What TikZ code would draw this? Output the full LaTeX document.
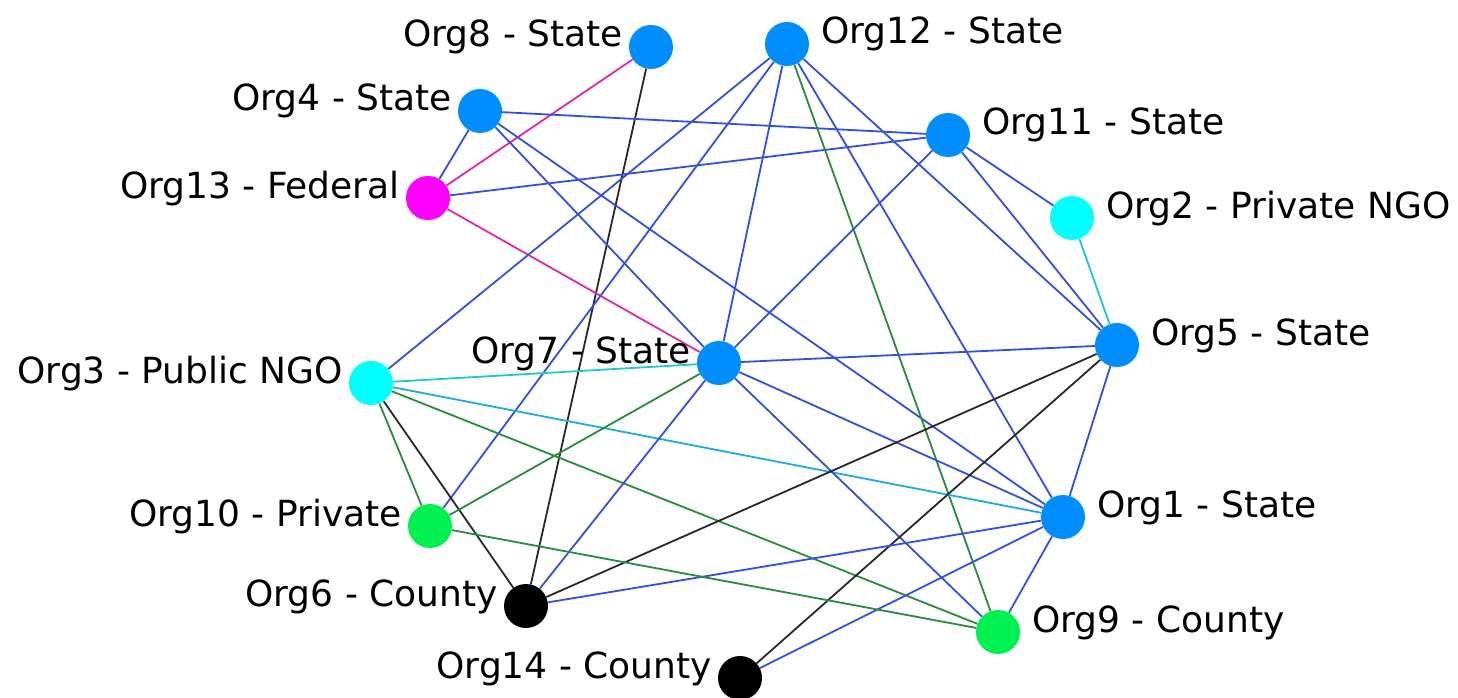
\documentclass[tikz,border=0pt]{standalone}
\usepackage{fontspec}
\setmainfont{DejaVu Sans}
\usetikzlibrary{backgrounds}
\definecolor{nblue}{RGB}{0,142,255}
\definecolor{ncyan}{RGB}{0,255,255}
\definecolor{nmag}{RGB}{255,0,255}
\definecolor{ngreen}{RGB}{0,240,80}
\definecolor{eblue}{RGB}{50,80,220}
\definecolor{emag}{RGB}{220,40,170}
\definecolor{egreen}{RGB}{40,140,60}
\definecolor{eblack}{RGB}{40,40,40}
\definecolor{ecyan}{RGB}{30,200,210}
\definecolor{elblue}{RGB}{30,170,225}
\tikzset{
  org/.style={circle, minimum size=44pt, inner sep=0pt, draw=none, fill=#1},
  lbl/.style={inner sep=0pt, font=\fontsize{36}{40}\selectfont, text=black},
  lleft/.style={lbl, anchor=base east},
  lright/.style={lbl, anchor=base west},
  edge/.style={line width=1.8pt, draw=#1},
}
\begin{document}
\begin{tikzpicture}[x=1pt,y=-1pt]
\useasboundingbox (0,0) rectangle (1458,698);
% nodes
\node[org=nblue]  (n8)  at (651,47)  {};
\node[org=nblue]  (n12) at (787,44)  {};
\node[org=nblue]  (n4)  at (480,111) {};
\node[org=nblue]  (n11) at (948,135) {};
\node[org=nmag]   (n13) at (428,198) {};
\node[org=ncyan]  (n2)  at (1072,218) {};
\node[org=nblue]  (n5)  at (1117,345) {};
\node[org=nblue]  (n7)  at (719,363) {};
\node[org=ncyan]  (n3)  at (371,383) {};
\node[org=ngreen] (n10) at (430,526) {};
\node[org=nblue]  (n1)  at (1063,517) {};
\node[org=black]  (n6)  at (526,606) {};
\node[org=ngreen] (n9)  at (998,632) {};
\node[org=black]  (n14) at (740,678) {};
% edges
\begin{pgfonlayer}{background}
\draw[edge=emag] (n8) -- (n13);
\draw[edge=eblack] (n8) -- (n6);
\draw[edge=eblue] (n4) -- (n13);
\draw[edge=eblue] (n4) -- (n11);
\draw[edge=eblue] (n4) -- (n7);
\draw[edge=eblue] (n4) -- (n1);
\draw[edge=eblue] (n13) -- (n11);
\draw[edge=emag] (n13) -- (n7);
\draw[edge=eblue] (n12) -- (n3);
\draw[edge=eblue] (n12) -- (n10);
\draw[edge=eblue] (n12) -- (n7);
\draw[edge=egreen] (n12) -- (n9);
\draw[edge=eblue] (n12) -- (n5);
\draw[edge=eblue] (n12) -- (n1);
\draw[edge=eblue] (n11) -- (n7);
\draw[edge=eblue] (n11) -- (n2);
\draw[edge=eblue] (n11) -- (n5);
\draw[edge=ecyan] (n2) -- (n5);
\draw[edge=eblue] (n7) -- (n5);
\draw[edge=ecyan] (n3) -- (n7);
\draw[edge=elblue] (n3) -- (n1);
\draw[edge=egreen] (n3) -- (n10);
\draw[edge=eblack] (n3) -- (n6);
\draw[edge=egreen] (n3) -- (n9);
\draw[edge=egreen] (n7) -- (n10);
\draw[edge=eblue] (n7) -- (n6);
\draw[edge=eblue] (n7) -- (n1);
\draw[edge=eblue] (n7) -- (n9);
\draw[edge=eblack] (n5) -- (n6);
\draw[edge=eblack] (n5) -- (n14);
\draw[edge=eblue] (n5) -- (n1);
\draw[edge=eblue] (n1) -- (n6);
\draw[edge=eblue] (n1) -- (n14);
\draw[edge=eblue] (n1) -- (n9);
\draw[edge=egreen] (n10) -- (n9);
\end{pgfonlayer}
% labels
\node[lleft]  (l8)  at ([xshift=-28pt]n8.center)  {Org8 - State};
\node[lright] (l12) at ([xshift=34pt]n12.center)  {Org12 - State};
\node[lleft]  (l4)  at ([xshift=-28pt]n4.center)  {Org4 - State};
\node[lright] (l11) at ([xshift=34pt]n11.center)  {Org11 - State};
\node[lleft]  (l13) at ([xshift=-28pt]n13.center) {Org13 - Federal};
\node[lright] (l2)  at ([xshift=34pt]n2.center)   {Org2 - Private NGO};
\node[lright] (l5)  at ([xshift=34pt]n5.center)   {Org5 - State};
\node[lleft]  (l7)  at ([xshift=-28pt]n7.center)  {Org7 - State};
\node[lleft]  (l3)  at ([xshift=-28pt]n3.center)  {Org3 - Public NGO};
\node[lleft]  (l10) at ([xshift=-28pt]n10.center) {Org10 - Private};
\node[lright] (l1)  at ([xshift=34pt]n1.center)   {Org1 - State};
\node[lleft]  (l6)  at ([xshift=-28pt]n6.center)  {Org6 - County};
\node[lright] (l9)  at ([xshift=34pt]n9.center)   {Org9 - County};
\node[lleft]  (l14) at ([xshift=-28pt]n14.center) {Org14 - County};
\end{tikzpicture}
\end{document}
